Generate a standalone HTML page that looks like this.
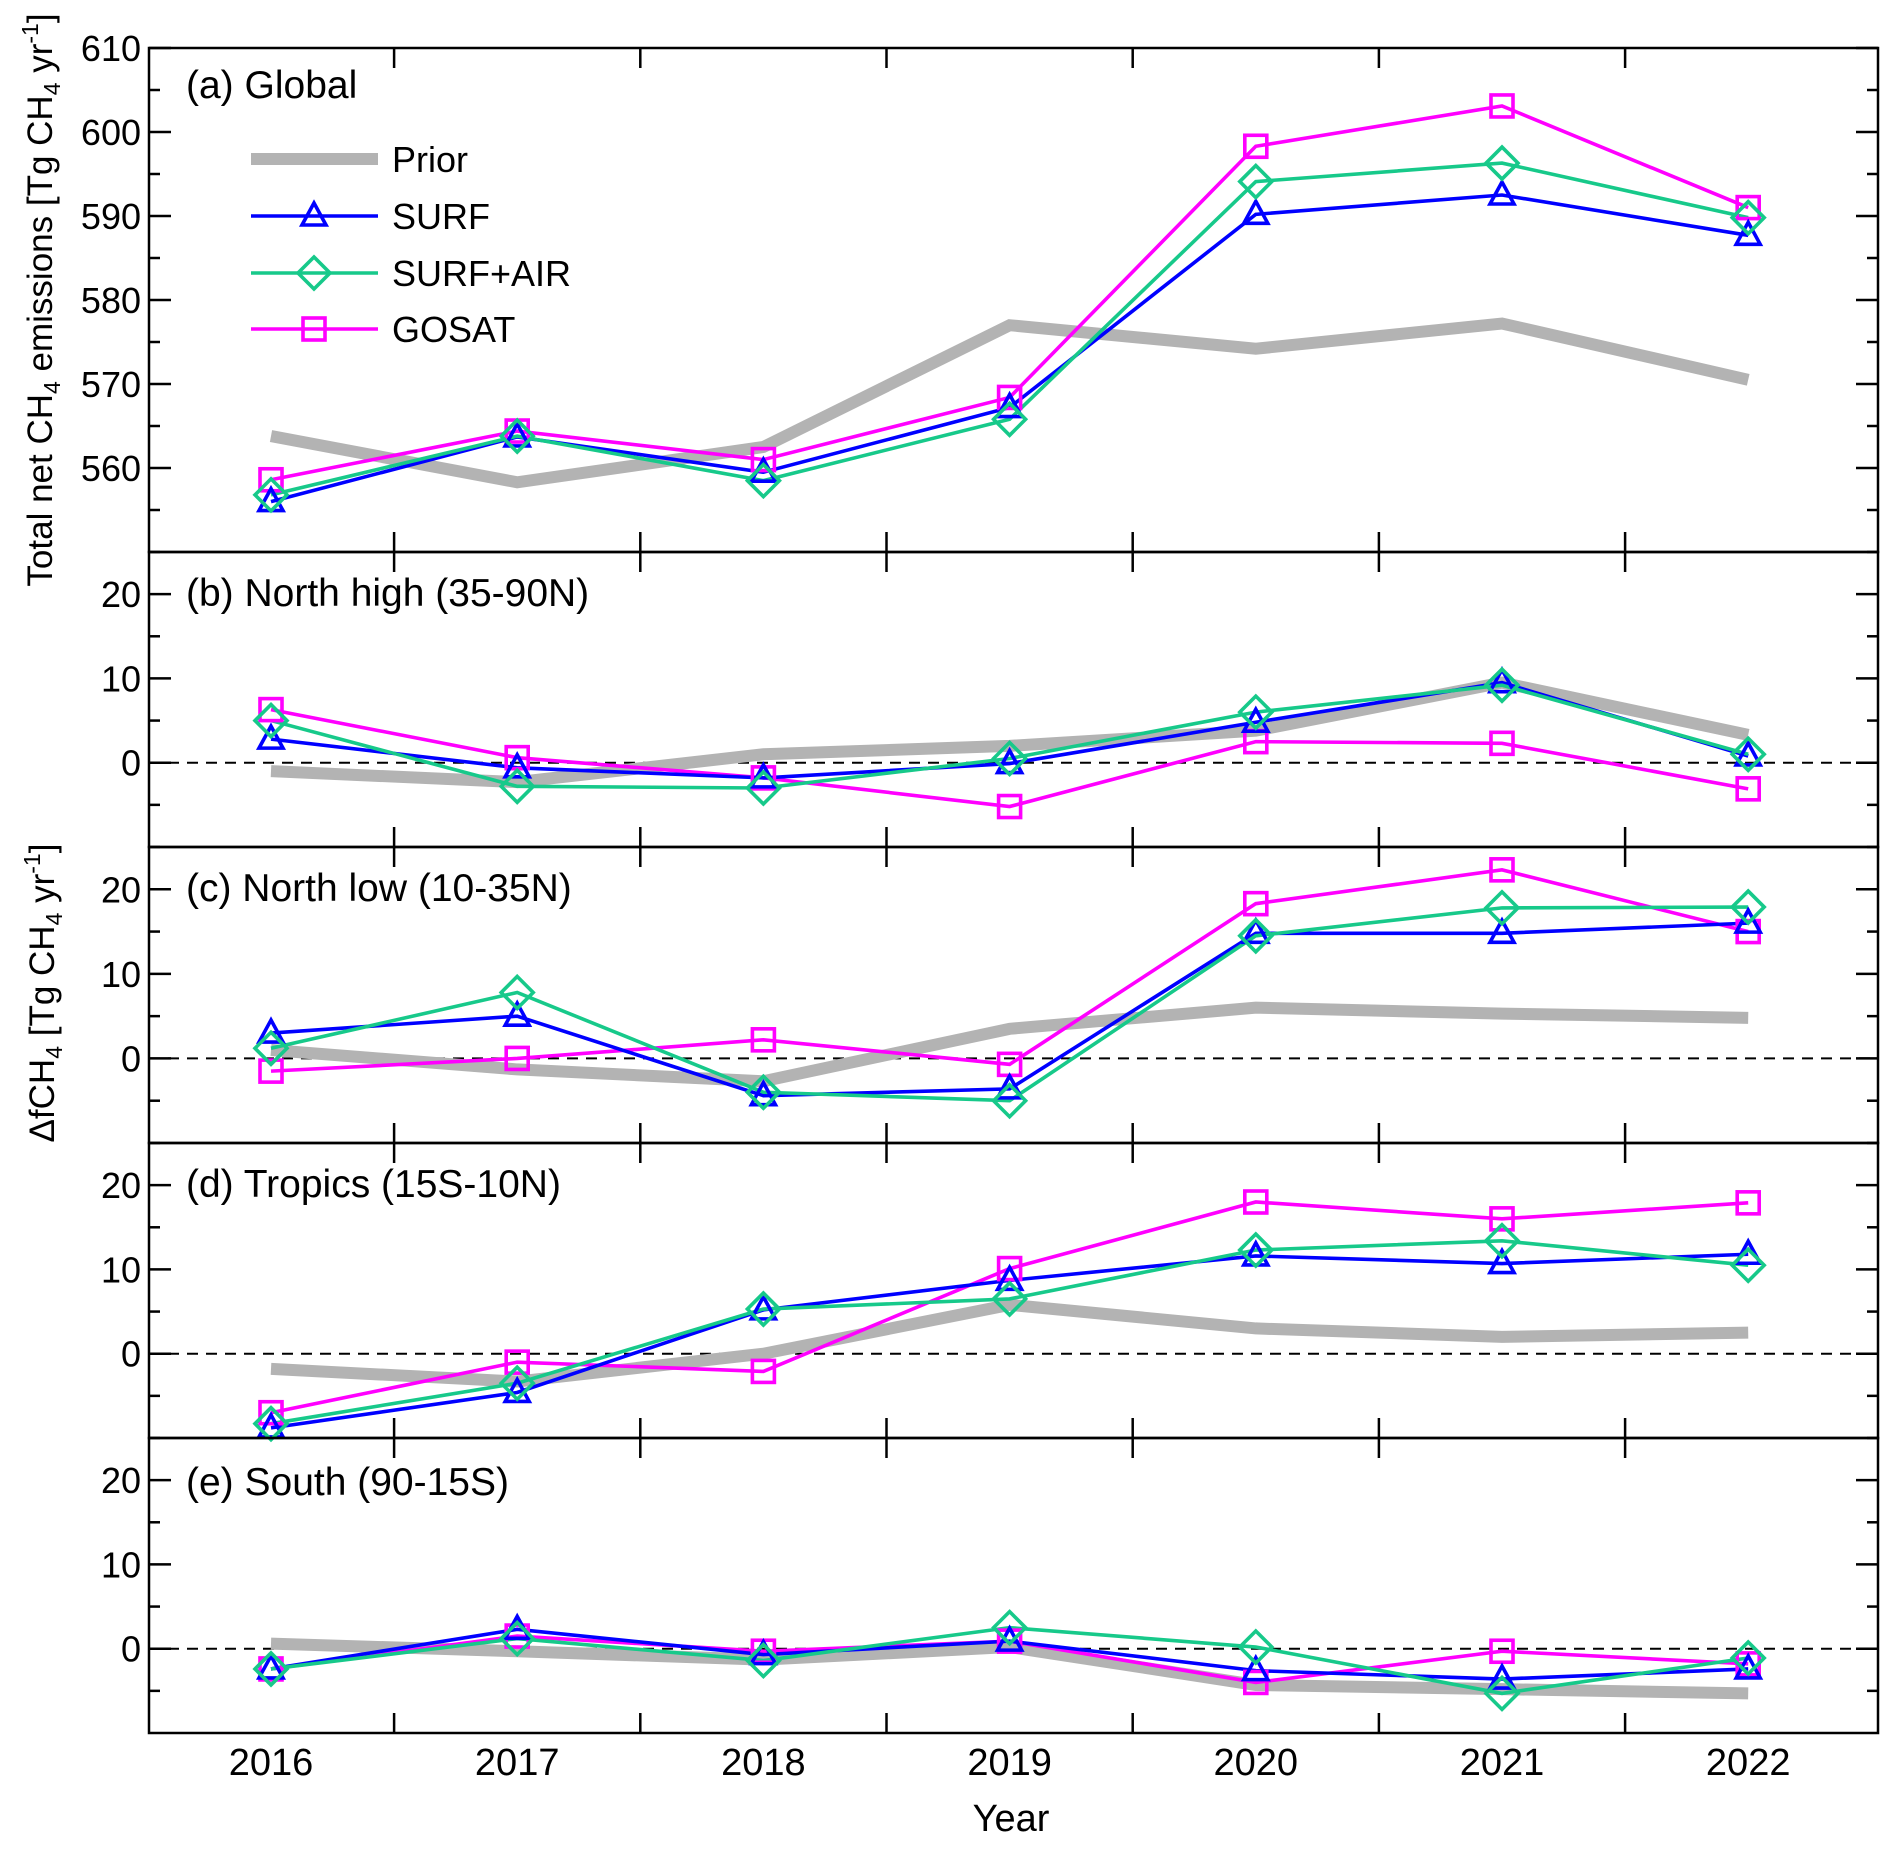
<!DOCTYPE html>
<html><head><meta charset="utf-8"><style>
html,body{margin:0;padding:0;background:#fff}
svg{display:block;font-family:"Liberation Sans",sans-serif}
</style></head><body>
<svg id="chart" width="1892" height="1851" viewBox="0 0 1892 1851" xmlns="http://www.w3.org/2000/svg"></svg>
<script>
const years = [2016, 2017, 2018, 2019, 2020, 2021, 2022];
const panelTitles = ["(a) Global", "(b) North high (35-90N)", "(c) North low (10-35N)", "(d) Tropics (15S-10N)", "(e) South (90-15S)"];
const seriesNames = ["Prior", "SURF", "SURF+AIR", "GOSAT"];
// panel a
const priorA = [563.8, 558.3, 562.5, 577.0, 574.2, 577.2, 570.5];
const surfA = [556.0, 563.7, 559.5, 567.2, 590.2, 592.5, 587.7];
const surfAirA = [556.8, 563.8, 558.5, 565.8, 594.1, 596.3, 589.8];
const gosatA = [558.6, 564.4, 561.0, 568.4, 598.3, 603.1, 591.0];
// panel b
const priorB = [-1.0, -2.3, 1.0, 2.0, 3.8, 9.5, 3.3];
const surfB = [2.8, -0.6, -1.8, -0.1, 4.8, 9.5, 0.8];
const surfAirB = [5.0, -2.8, -3.0, 0.5, 6.0, 9.2, 1.0];
const gosatB = [6.3, 0.6, -1.8, -5.2, 2.5, 2.3, -3.1];
// panel c
const priorC = [1.0, -1.3, -2.7, 3.5, 6.0, 5.3, 4.8];
const surfC = [3.0, 5.0, -4.4, -3.6, 14.8, 14.8, 16.0];
const surfAirC = [1.2, 7.8, -4.0, -5.0, 14.5, 17.8, 17.9];
const gosatC = [-1.5, 0.0, 2.2, -0.7, 18.3, 22.3, 15.0];
// panel d
const priorD = [-1.8, -3.3, 0.0, 5.8, 3.0, 2.0, 2.5];
const surfD = [-8.8, -4.6, 5.2, 8.7, 11.6, 10.7, 11.8];
const surfAirD = [-8.3, -3.5, 5.3, 6.5, 12.3, 13.4, 10.5];
const gosatD = [-7.0, -1.0, -2.1, 10.1, 18.0, 16.0, 17.9];
// panel e
const priorE = [0.6, -0.3, -1.3, 0.2, -4.3, -4.8, -5.3];
const surfE = [-2.4, 2.3, -0.7, 0.9, -2.6, -3.6, -2.4];
const surfAirE = [-2.4, 1.2, -1.4, 2.5, 0.2, -5.3, -1.1];
const gosatE = [-2.4, 1.5, -0.3, 0.9, -4.0, -0.3, -1.8];
const ticksA = [560, 570, 580, 590, 600, 610];
const ticksB = [0, 10, 20];

const NS = "http://www.w3.org/2000/svg";
const svg = document.getElementById("chart");
function mk(tag, attrs, parent) {
  const e = document.createElementNS(NS, tag);
  for (const k in attrs) e.setAttribute(k, attrs[k]);
  (parent || svg).appendChild(e);
  return e;
}
const L = 149, R = 1878;
const x = y => 271 + (y - 2016) * 246.2;
const COL = {prior: "#b3b3b3", surf: "#0000ff", air: "#17c98a", gosat: "#ff00ff"};
const LW = 3.6;

const panels = [
  {top: 48, bot: 552, min: 550, max: 610, ticks: ticksA, minor: 5, data: [priorA, surfA, surfAirA, gosatA], zero: false, tb: 98},
  {top: 552, bot: 847, min: -10, max: 25, ticks: ticksB, minor: 5, data: [priorB, surfB, surfAirB, gosatB], zero: true, tb: 606},
  {top: 847, bot: 1143, min: -10, max: 25, ticks: ticksB, minor: 5, data: [priorC, surfC, surfAirC, gosatC], zero: true, tb: 901},
  {top: 1143, bot: 1438, min: -10, max: 25, ticks: ticksB, minor: 5, data: [priorD, surfD, surfAirD, gosatD], zero: true, tb: 1197},
  {top: 1438, bot: 1733, min: -10, max: 25, ticks: ticksB, minor: 5, data: [priorE, surfE, surfAirE, gosatE], zero: true, tb: 1495}
];

function marker(g, kind, cx, cy) {
  let el;
  if (kind === "tri") el = mk("polygon", {points: `${cx},${cy-13} ${cx-12},${cy+9} ${cx+12},${cy+9}`, fill: "none", stroke: COL.surf, "stroke-width": LW}, g);
  else if (kind === "dia") el = mk("polygon", {points: `${cx},${cy-16} ${cx+16},${cy} ${cx},${cy+16} ${cx-16},${cy}`, fill: "none", stroke: COL.air, "stroke-width": LW}, g);
  else el = mk("rect", {x: cx-11, y: cy-11, width: 22, height: 22, fill: "none", stroke: COL.gosat, "stroke-width": LW}, g);
  return el;
}

panels.forEach((p, pi) => {
  const y = v => p.bot - (v - p.min) / (p.max - p.min) * (p.bot - p.top);
  const g = mk("g", {});
  
  
  if (p.zero) {
    const z = mk("line", {x1: L, x2: R, y1: y(0), y2: y(0), stroke: "#000", "stroke-width": 2, "stroke-dasharray": "11,8"}, g);
    
    
  }
  for (let v = Math.ceil(p.min / p.minor) * p.minor; v <= p.max; v += p.minor) {
    if (v === p.min) continue;
    const major = p.ticks.includes(v);
    const len = major ? 22 : 11;
    mk("line", {x1: L, x2: L + len, y1: y(v), y2: y(v), stroke: "#000", "stroke-width": 2.5}, g);
    mk("line", {x1: R, x2: R - len, y1: y(v), y2: y(v), stroke: "#000", "stroke-width": 2.5}, g);
    if (major) {
      const t = mk("text", {x: 141, y: y(v) + 13, "text-anchor": "end", "font-size": 36}, g);
      t.textContent = v;
      
      
    }
  }
  for (let k = 0; k < 6; k++) {
    const xx = x(2016.5 + k);
    mk("line", {x1: xx, x2: xx, y1: p.top, y2: p.top + 20, stroke: "#000", "stroke-width": 2.5}, g);
    mk("line", {x1: xx, x2: xx, y1: p.bot, y2: p.bot - 20, stroke: "#000", "stroke-width": 2.5}, g);
  }
  const styles = [
    {c: COL.prior, w: 12, m: null, n: "prior"},
    {c: COL.surf, w: LW, m: "tri", n: "surf"},
    {c: COL.air, w: LW, m: "dia", n: "surf-air"},
    {c: COL.gosat, w: LW, m: "sq", n: "gosat"}
  ];
  const order = [0, 3, 1, 2];
  order.forEach(si => {
    const s = styles[si], arr = p.data[si];
    const pts = arr.map((v, i) => x(years[i]) + "," + y(v)).join(" ");
    const pl = mk("polyline", {points: pts, fill: "none", stroke: s.c, "stroke-width": s.w, "stroke-linejoin": "miter"}, g);
    
    
  });
  order.forEach(si => {
    const s = styles[si], arr = p.data[si];
    if (!s.m) return;
    arr.forEach((v, i) => {
      const m = marker(g, s.m, x(years[i]), y(v));
      
      
    });
  });
  const b = mk("rect", {x: L, y: p.top, width: R - L, height: p.bot - p.top, fill: "none", stroke: "#000", "stroke-width": 2.5}, g);
  
  
  const t = mk("text", {x: 186, y: p.tb, "font-size": 39}, g);
  t.textContent = panelTitles[pi];
  
  
});

years.forEach(yr => {
  const t = mk("text", {x: x(yr), y: 1775, "text-anchor": "middle", "font-size": 38});
  t.textContent = yr;
  
  
});
const xt = mk("text", {x: 1011, y: 1831, "text-anchor": "middle", "font-size": 38});
xt.textContent = "Year";



const leg = mk("g", {});


const legRows = [159, 216, 273, 329];
const legCols = [COL.prior, COL.surf, COL.air, COL.gosat];
const legMk = [null, "tri", "dia", "sq"];
seriesNames.forEach((n, i) => {
  const ln = mk("line", {x1: 251, x2: 378, y1: legRows[i], y2: legRows[i], stroke: legCols[i], "stroke-width": i === 0 ? 12 : LW}, leg);
  
  
  if (legMk[i]) marker(leg, legMk[i], 314, legRows[i]);
  const t = mk("text", {x: 392, y: legRows[i] + 13, "font-size": 36}, leg);
  t.textContent = n;
  
  
});

const y1 = mk("text", {transform: "translate(52,300) rotate(-90)", "text-anchor": "middle", "font-size": 35});
y1.innerHTML = 'Total net CH<tspan font-size="23" dy="8">4</tspan><tspan dy="-8"> emissions [Tg CH</tspan><tspan font-size="23" dy="8">4</tspan><tspan dy="-8"> yr</tspan><tspan font-size="23" dy="-14">-1</tspan><tspan dy="14">]</tspan>';


const y2 = mk("text", {transform: "translate(54,993) rotate(-90)", "text-anchor": "middle", "font-size": 35});
y2.innerHTML = 'ΔfCH<tspan font-size="23" dy="8">4</tspan><tspan dy="-8"> [Tg CH</tspan><tspan font-size="23" dy="8">4</tspan><tspan dy="-8"> yr</tspan><tspan font-size="23" dy="-14">-1</tspan><tspan dy="14">]</tspan>';


</script>
</body></html>
